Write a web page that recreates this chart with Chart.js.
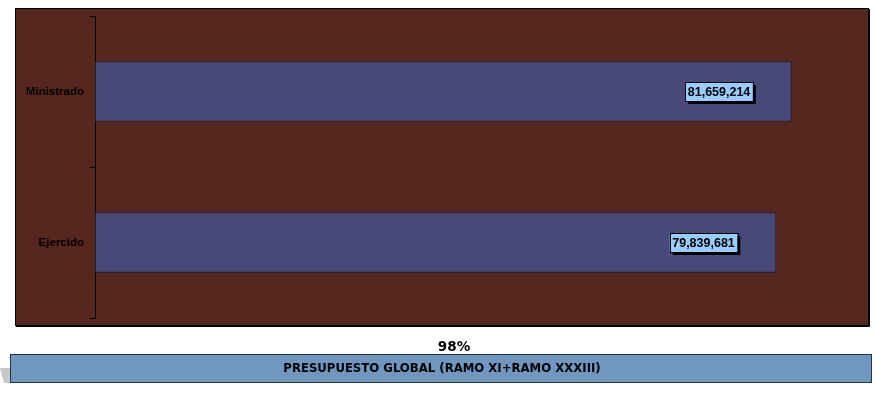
<!DOCTYPE html>
<html>
<head>
<meta charset="utf-8">
<script src="https://cdn.jsdelivr.net/npm/chart.js@4.4.0/dist/chart.umd.min.js"></script>
<style>
  html, body { margin: 0; padding: 0; background: #fff; }
  #wrap { width: 875px; height: 395px; position: relative; }
</style>
</head>
<body>
<div id="wrap"><canvas id="chart" width="875" height="395"></canvas></div>
<script>
const categories = ["Ministrado", "Ejercido"];
const amounts = [81659214, 79839681];
const footerTitle = "PRESUPUESTO GLOBAL (RAMO XI+RAMO XXXIII)";
const pct = Math.round(amounts[1] / amounts[0] * 100) + "%";

const brown = "#55271F";
const barColor = "#474A78";

// brown panel + bottom banner
const frame = {
    id: "frame",
    beforeDraw(chart) {
        const c = chart.ctx;
        c.save();
        c.fillStyle = brown;
        c.fillRect(15, 8, 854, 318);
        c.strokeStyle = "#000";
        c.lineWidth = 1;
        c.strokeRect(15.5, 8.5, 853, 317);
        c.beginPath();
        c.moveTo(869.5, 9); c.lineTo(869.5, 326.5); c.lineTo(16, 326.5);
        c.stroke();

        // little grey shadow at left of banner
        c.fillStyle = "#c8c8c8";
        c.beginPath();
        c.moveTo(0, 368); c.lineTo(10, 368); c.lineTo(10, 383); c.lineTo(4, 383);
        c.closePath(); c.fill();

        c.fillStyle = "#6F97BF";
        c.fillRect(10, 354, 862, 29);
        c.strokeStyle = "#22344a";
        c.strokeRect(10.5, 354.5, 861, 28);

        c.fillStyle = "#000";
        c.textAlign = "center";
        c.textBaseline = "middle";
        c.font = "bold 13.5px 'DejaVu Sans'";
        c.fillText(pct, 454, 347);
        c.font = "bold 13px 'DejaVu Sans Condensed'";
        c.fillText(footerTitle, 442, 369);
        c.restore();
    }
};

// value boxes inside the bar ends
const valueBoxes = {
    id: "valueBoxes",
    afterDatasetsDraw(chart) {
        const c = chart.ctx;
        const meta = chart.getDatasetMeta(0);
        c.save();
        c.font = "bold 12.5px Arial, 'Liberation Sans'";
        c.textBaseline = "middle";
        c.textAlign = "center";
        meta.data.forEach((bar, i) => {
            const txt = amounts[i].toLocaleString("en-US");
            const w = c.measureText(txt).width + 5;
            const h = 19;
            const right = bar.x - 39;
            const x = right - w;
            const y = bar.y - h / 2;
            c.fillStyle = "#000";
            c.fillRect(x + 3, y + 3, w, h);
            c.fillStyle = "#99CCFF";
            c.fillRect(x, y, w, h);
            c.strokeStyle = "#000";
            c.lineWidth = 1;
            c.strokeRect(Math.round(x) + 0.5, Math.round(y) + 0.5, Math.round(w), h);
            c.fillStyle = "#000";
            c.fillText(txt, x + w / 2, bar.y + 1);
        });
        c.restore();
    }
};

new Chart(document.getElementById("chart"), {
    type: "bar",
    data: {
        labels: categories,
        datasets: [{
            data: amounts,
            backgroundColor: barColor,
            borderColor: "#1e1e30",
            borderWidth: 1,
            borderSkipped: false,
            categoryPercentage: 1,
            barPercentage: 0.4
        }]
    },
    options: {
        indexAxis: "y",
        responsive: false,
        animation: false,
        layout: { padding: { left: 15, right: 12, top: 16, bottom: 77 } },
        plugins: {
            legend: { display: false },
            tooltip: { enabled: false }
        },
        scales: {
            x: {
                display: false,
                min: 0,
                max: 90000000
            },
            y: {
                afterFit(scale) { scale.width = 80; },
                border: { display: true, color: "#000", width: 1 },
                grid: {
                    offset: true,
                    drawOnChartArea: false,
                    drawTicks: true,
                    tickLength: 5,
                    color: "#000"
                },
                ticks: {
                    color: "#000",
                    padding: 6,
                    font: { family: "Arial, 'Liberation Sans'", size: 11.5, weight: "bold" }
                }
            }
        }
    },
    plugins: [frame, valueBoxes]
});
</script>
</body>
</html>
